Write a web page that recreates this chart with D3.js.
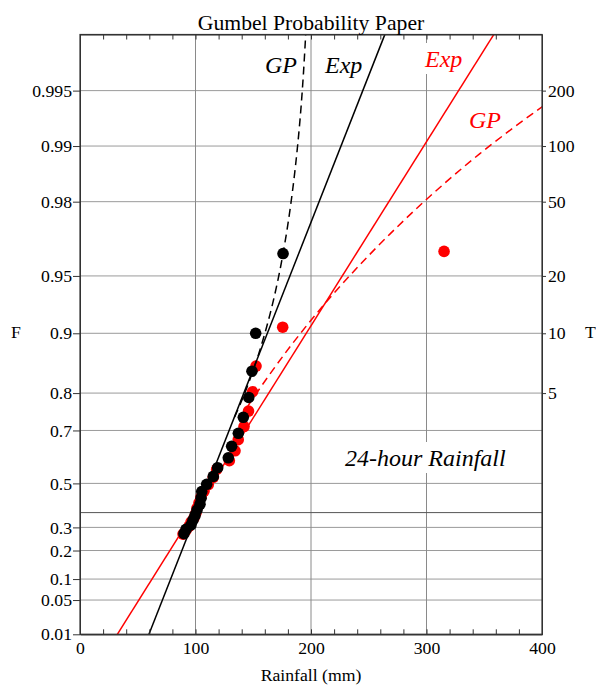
<!DOCTYPE html>
<html>
<head>
<meta charset="utf-8">
<script src="https://cdn.jsdelivr.net/npm/d3@7"></script>
<style>
  body { margin: 0; background: #fff; }
  svg text { font-family: "Liberation Serif", "Times New Roman", serif; }
</style>
</head>
<body>
<svg id="chart" width="596" height="686"></svg>
<script>
// Axis ticks
const fTicks = [0.01, 0.05, 0.1, 0.2, 0.3, 0.5, 0.7, 0.8, 0.9, 0.95, 0.98, 0.99, 0.995];
const fTickLabels = ["0.01", "0.05", "0.1", "0.2", "0.3", "0.5", "0.7", "0.8", "0.9", "0.95", "0.98", "0.99", "0.995"];
const tTicks = [5, 10, 20, 50, 100, 200];
const xTicks = [0, 100, 200, 300, 400];
const xGrid = [100, 200, 300];

// Black sample (rainfall in mm, plotting position F)
const rainBlack = [175.8, 152.1, 148.9, 146.1, 141.4, 137.1, 131.3, 128.4, 119.2, 115.4,
                   109.7, 105.4, 104.8, 103.9, 101.3, 99.6, 97.8, 96.1, 91.8, 90.0];
const fBlack = [0.962, 0.900, 0.844, 0.790, 0.739, 0.691, 0.647, 0.605, 0.566, 0.530,
                0.496, 0.464, 0.434, 0.406, 0.380, 0.355, 0.333, 0.311, 0.291, 0.272];

// Red sample
const rainRed = [315.2, 175.5, 152.4, 149.4, 145.9, 142.0, 137.0, 134.2, 129.3, 118.3, 115.4,
                 111.1, 107.4, 104.8, 103.0, 101.3, 100.4, 98.7, 96.1, 94.4, 91.8, 89.2];
const fRed = [0.963, 0.907, 0.853, 0.803, 0.756, 0.712, 0.670, 0.631, 0.594, 0.559, 0.526,
              0.495, 0.466, 0.439, 0.413, 0.389, 0.366, 0.344, 0.324, 0.305, 0.287, 0.270];

// Fitted lines
const expF = [0.01, 0.99752];
const expBlackRain = [59.7, 263.9];
const expRedRain = [32.3, 358.2];
const gpF = [0.7403, 0.8000, 0.8734, 0.9212, 0.9514, 0.9702, 0.9819, 0.9890, 0.99329, 0.99592, 0.99752];
const gpBlackRain = [133.9, 142.7, 154.9, 164.7, 172.5, 178.7, 183.7, 187.7, 190.9, 193.4, 195.4];
const gpRedRain = [139.2, 152.9, 177.6, 204.9, 235.2, 268.5, 305.5, 346.2, 391.3, 441.1, 496.2];

const RED = "#ff0000";
const plotLeft = 80, plotRight = 542, plotTop = 34.5, plotBottom = 634.3;

// Gumbel reduced variate
const gum = F => -Math.log(-Math.log(F));

const svg = d3.select("#chart");

const x = d3.scaleLinear().domain([0, 400]).range([plotLeft, plotRight]);
const y = d3.scaleLinear().domain([gum(0.01), 6]).range([plotBottom, plotTop]);
const yF = F => y(gum(F));

svg.append("defs").append("clipPath").attr("id", "plot-clip")
  .append("rect")
  .attr("x", plotLeft).attr("y", plotTop)
  .attr("width", plotRight - plotLeft).attr("height", plotBottom - plotTop);

// grid
const grid = svg.append("g");
grid.selectAll(".hgrid")
  .data(fTicks)
  .join("line")
  .attr("x1", plotLeft).attr("x2", plotRight)
  .attr("y1", d => yF(d)).attr("y2", d => yF(d))
  .attr("stroke", "#9a9a9a").attr("stroke-width", 1);

grid.selectAll(".vgrid")
  .data(xGrid)
  .join("line")
  .attr("x1", d => x(d)).attr("x2", d => x(d))
  .attr("y1", plotTop).attr("y2", plotBottom)
  .attr("stroke", "#8a8a8a").attr("stroke-width", 1);

// F = 1/e line
grid.append("line")
  .attr("x1", plotLeft).attr("x2", plotRight)
  .attr("y1", y(0)).attr("y2", y(0))
  .attr("stroke", "#555").attr("stroke-width", 1);

// labels inside the plot, with white boxes behind
const labels = [
  { text: "GP", x: 265, y: 73, color: "#000" },
  { text: "Exp", x: 325, y: 73, color: "#000" },
  { text: "Exp", x: 425, y: 67, color: RED },
  { text: "GP", x: 469, y: 128, color: RED },
  { text: "24-hour Rainfall", x: 345, y: 466, color: "#000" }
];
labels.forEach(l => {
  const g = svg.append("g");
  const rect = g.append("rect").attr("fill", "#fff");
  const t = g.append("text")
    .attr("x", l.x).attr("y", l.y)
    .attr("fill", l.color)
    .style("font-size", "24px")
    .style("font-style", "italic")
    .text(l.text);
  const bb = t.node().getBBox();
  rect.attr("x", bb.x - 3).attr("y", bb.y - 3)
    .attr("width", bb.width + 6).attr("height", bb.height + 5);
});

// curves
const plot = svg.append("g").attr("clip-path", "url(#plot-clip)");
const line = d3.line()
  .x(d => x(d[0]))
  .y(d => yF(d[1]))
  .curve(d3.curveCatmullRom);

function drawCurve(rain, F, color, dashed) {
  plot.append("path")
    .datum(rain.map((r, i) => [r, F[i]]))
    .attr("d", line)
    .attr("fill", "none")
    .attr("stroke", color)
    .attr("stroke-width", 1.5)
    .attr("stroke-dasharray", dashed ? "8,5" : null);
}

function drawPoints(rain, F, color) {
  plot.append("g")
    .selectAll("circle")
    .data(rain.map((r, i) => [r, F[i]]))
    .join("circle")
    .attr("cx", d => x(d[0]))
    .attr("cy", d => yF(d[1]))
    .attr("r", 5.8)
    .attr("fill", color);
}

drawCurve(expRedRain, expF, RED, false);
drawCurve(gpRedRain, gpF, RED, true);
drawPoints(rainRed, fRed, RED);
drawCurve(expBlackRain, expF, "#000", false);
drawCurve(gpBlackRain, gpF, "#000", true);
drawPoints(rainBlack, fBlack, "#000");

// axes
const fontSize = "17.7px";

svg.append("g")
  .attr("transform", `translate(${plotLeft},0)`)
  .call(d3.axisLeft(y)
    .tickValues(fTicks.map(gum))
    .tickFormat((d, i) => fTickLabels[i])
    .tickSize(7).tickSizeOuter(0).tickPadding(1));

svg.append("g")
  .attr("transform", `translate(${plotRight},0)`)
  .call(d3.axisRight(y)
    .tickValues(tTicks.map(T => gum(1 - 1 / T)))
    .tickFormat((d, i) => tTicks[i])
    .tickSize(4).tickSizeOuter(0).tickPadding(2));

svg.append("g")
  .attr("transform", `translate(0,${plotBottom})`)
  .call(d3.axisBottom(x)
    .tickValues(xTicks)
    .tickSize(0).tickPadding(7.3));

const minor = d3.range(0, 401, 20);
svg.append("g")
  .attr("transform", `translate(0,${plotBottom})`)
  .call(d3.axisBottom(x).tickValues(minor).tickSize(-5).tickFormat(""));
svg.append("g")
  .attr("transform", `translate(0,${plotTop})`)
  .call(d3.axisTop(x).tickValues(minor).tickSize(-5).tickFormat(""));

svg.selectAll(".tick text")
  .style("font-size", fontSize)
  .style("font-family", "'Liberation Serif', serif")
  .attr("fill", "#000");
svg.selectAll(".tick line").attr("stroke", "#333");
svg.selectAll(".domain").attr("stroke", "#333");

// frame
svg.append("rect")
  .attr("x", plotLeft).attr("y", plotTop)
  .attr("width", plotRight - plotLeft).attr("height", plotBottom - plotTop)
  .attr("fill", "none")
  .attr("stroke", "#333").attr("stroke-width", 1.2);

// titles
svg.append("text")
  .attr("x", 311).attr("y", 29.5)
  .attr("text-anchor", "middle")
  .style("font-size", "21.7px")
  .text("Gumbel Probability Paper");

svg.append("text")
  .attr("x", 311).attr("y", 681)
  .attr("text-anchor", "middle")
  .style("font-size", fontSize)
  .text("Rainfall (mm)");

svg.append("text")
  .attr("x", 11).attr("y", 338)
  .style("font-size", fontSize)
  .text("F");

svg.append("text")
  .attr("x", 585).attr("y", 338)
  .style("font-size", fontSize)
  .text("T");
</script>
</body>
</html>
